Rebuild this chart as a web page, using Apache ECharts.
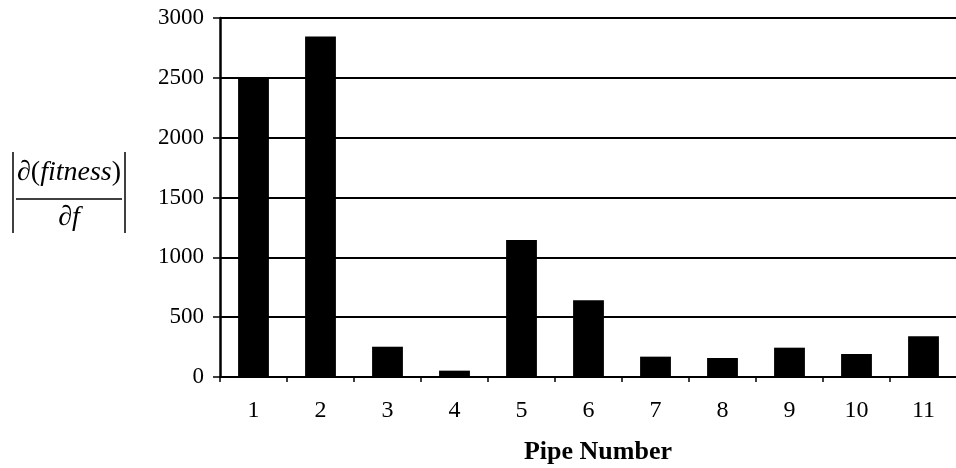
<!DOCTYPE html>
<html>
<head>
<meta charset="utf-8">
<script src="https://cdn.jsdelivr.net/npm/echarts@6/dist/echarts.min.js"></script>
<style>
html,body{margin:0;padding:0;background:#fff;}
#chart{width:956px;height:468px;}
</style>
</head>
<body>
<div id="chart"></div>
<script>
const categories = ['1','2','3','4','5','6','7','8','9','10','11'];
const values = [2500, 2845, 253, 53, 1145, 641, 170, 159, 245, 192, 340];
const yTicks = [0, 500, 1000, 1500, 2000, 2500, 3000];
const xTitle = 'Pipe Number';

const FONT = 'Liberation Serif';
const chart = echarts.init(document.getElementById('chart'), null, {renderer: 'canvas'});
chart.setOption({
  animation: false,
  backgroundColor: '#fff',
  grid: {left: 220, right: -1, top: 18, bottom: 91, containLabel: false, outerBoundsMode: 'none'},
  xAxis: {
    type: 'category',
    data: categories,
    axisLine: {lineStyle: {color: '#000', width: 2}},
    axisTick: {show: true, length: 5, lineStyle: {color: '#000', width: 1.5}, alignWithLabel: false},
    axisLabel: {color: '#000', fontFamily: FONT, fontSize: 24, margin: 22},
    name: xTitle,
    nameLocation: 'middle',
    nameGap: 62,
    nameTextStyle: {color: '#000', fontFamily: FONT, fontSize: 26, fontWeight: 'bold', padding: [0, 0, 0, 19]}
  },
  yAxis: {
    type: 'value',
    min: yTicks[0],
    max: yTicks[yTicks.length - 1],
    interval: 500,
    axisLine: {show: true, lineStyle: {color: '#000', width: 2.5}},
    axisTick: {show: true, length: 7, lineStyle: {color: '#000', width: 1.5}},
    axisLabel: {color: '#000', fontFamily: FONT, fontSize: 23, margin: 16, formatter: v => String(v)},
    splitLine: {show: true, lineStyle: {color: '#000', width: 2}}
  },
  series: [{
    type: 'bar',
    data: values,
    barWidth: '46%',
    itemStyle: {color: '#000'}
  }],
  graphic: [
    {type: 'line', shape: {x1: 13, y1: 152, x2: 13, y2: 233}, style: {stroke: '#000', lineWidth: 1.5}},
    {type: 'line', shape: {x1: 125, y1: 152, x2: 125, y2: 233}, style: {stroke: '#000', lineWidth: 1.5}},
    {type: 'line', shape: {x1: 16, y1: 199, x2: 122, y2: 199}, style: {stroke: '#000', lineWidth: 1.5}},
    {type: 'text', x: 69, y: 173, style: {
      text: '{n|∂(}{i|fitness}{n|)}',
      align: 'center', verticalAlign: 'middle',
      rich: {
        n: {fontFamily: FONT, fontSize: 28, fill: '#000'},
        i: {fontFamily: FONT, fontSize: 28, fontStyle: 'italic', fill: '#000'}
      }
    }},
    {type: 'text', x: 69, y: 218, style: {
      text: '{n|∂}{i|f}',
      align: 'center', verticalAlign: 'middle',
      rich: {
        n: {fontFamily: FONT, fontSize: 28, fill: '#000'},
        i: {fontFamily: FONT, fontSize: 28, fontStyle: 'italic', fill: '#000'}
      }
    }}
  ]
});
</script>
</body>
</html>
